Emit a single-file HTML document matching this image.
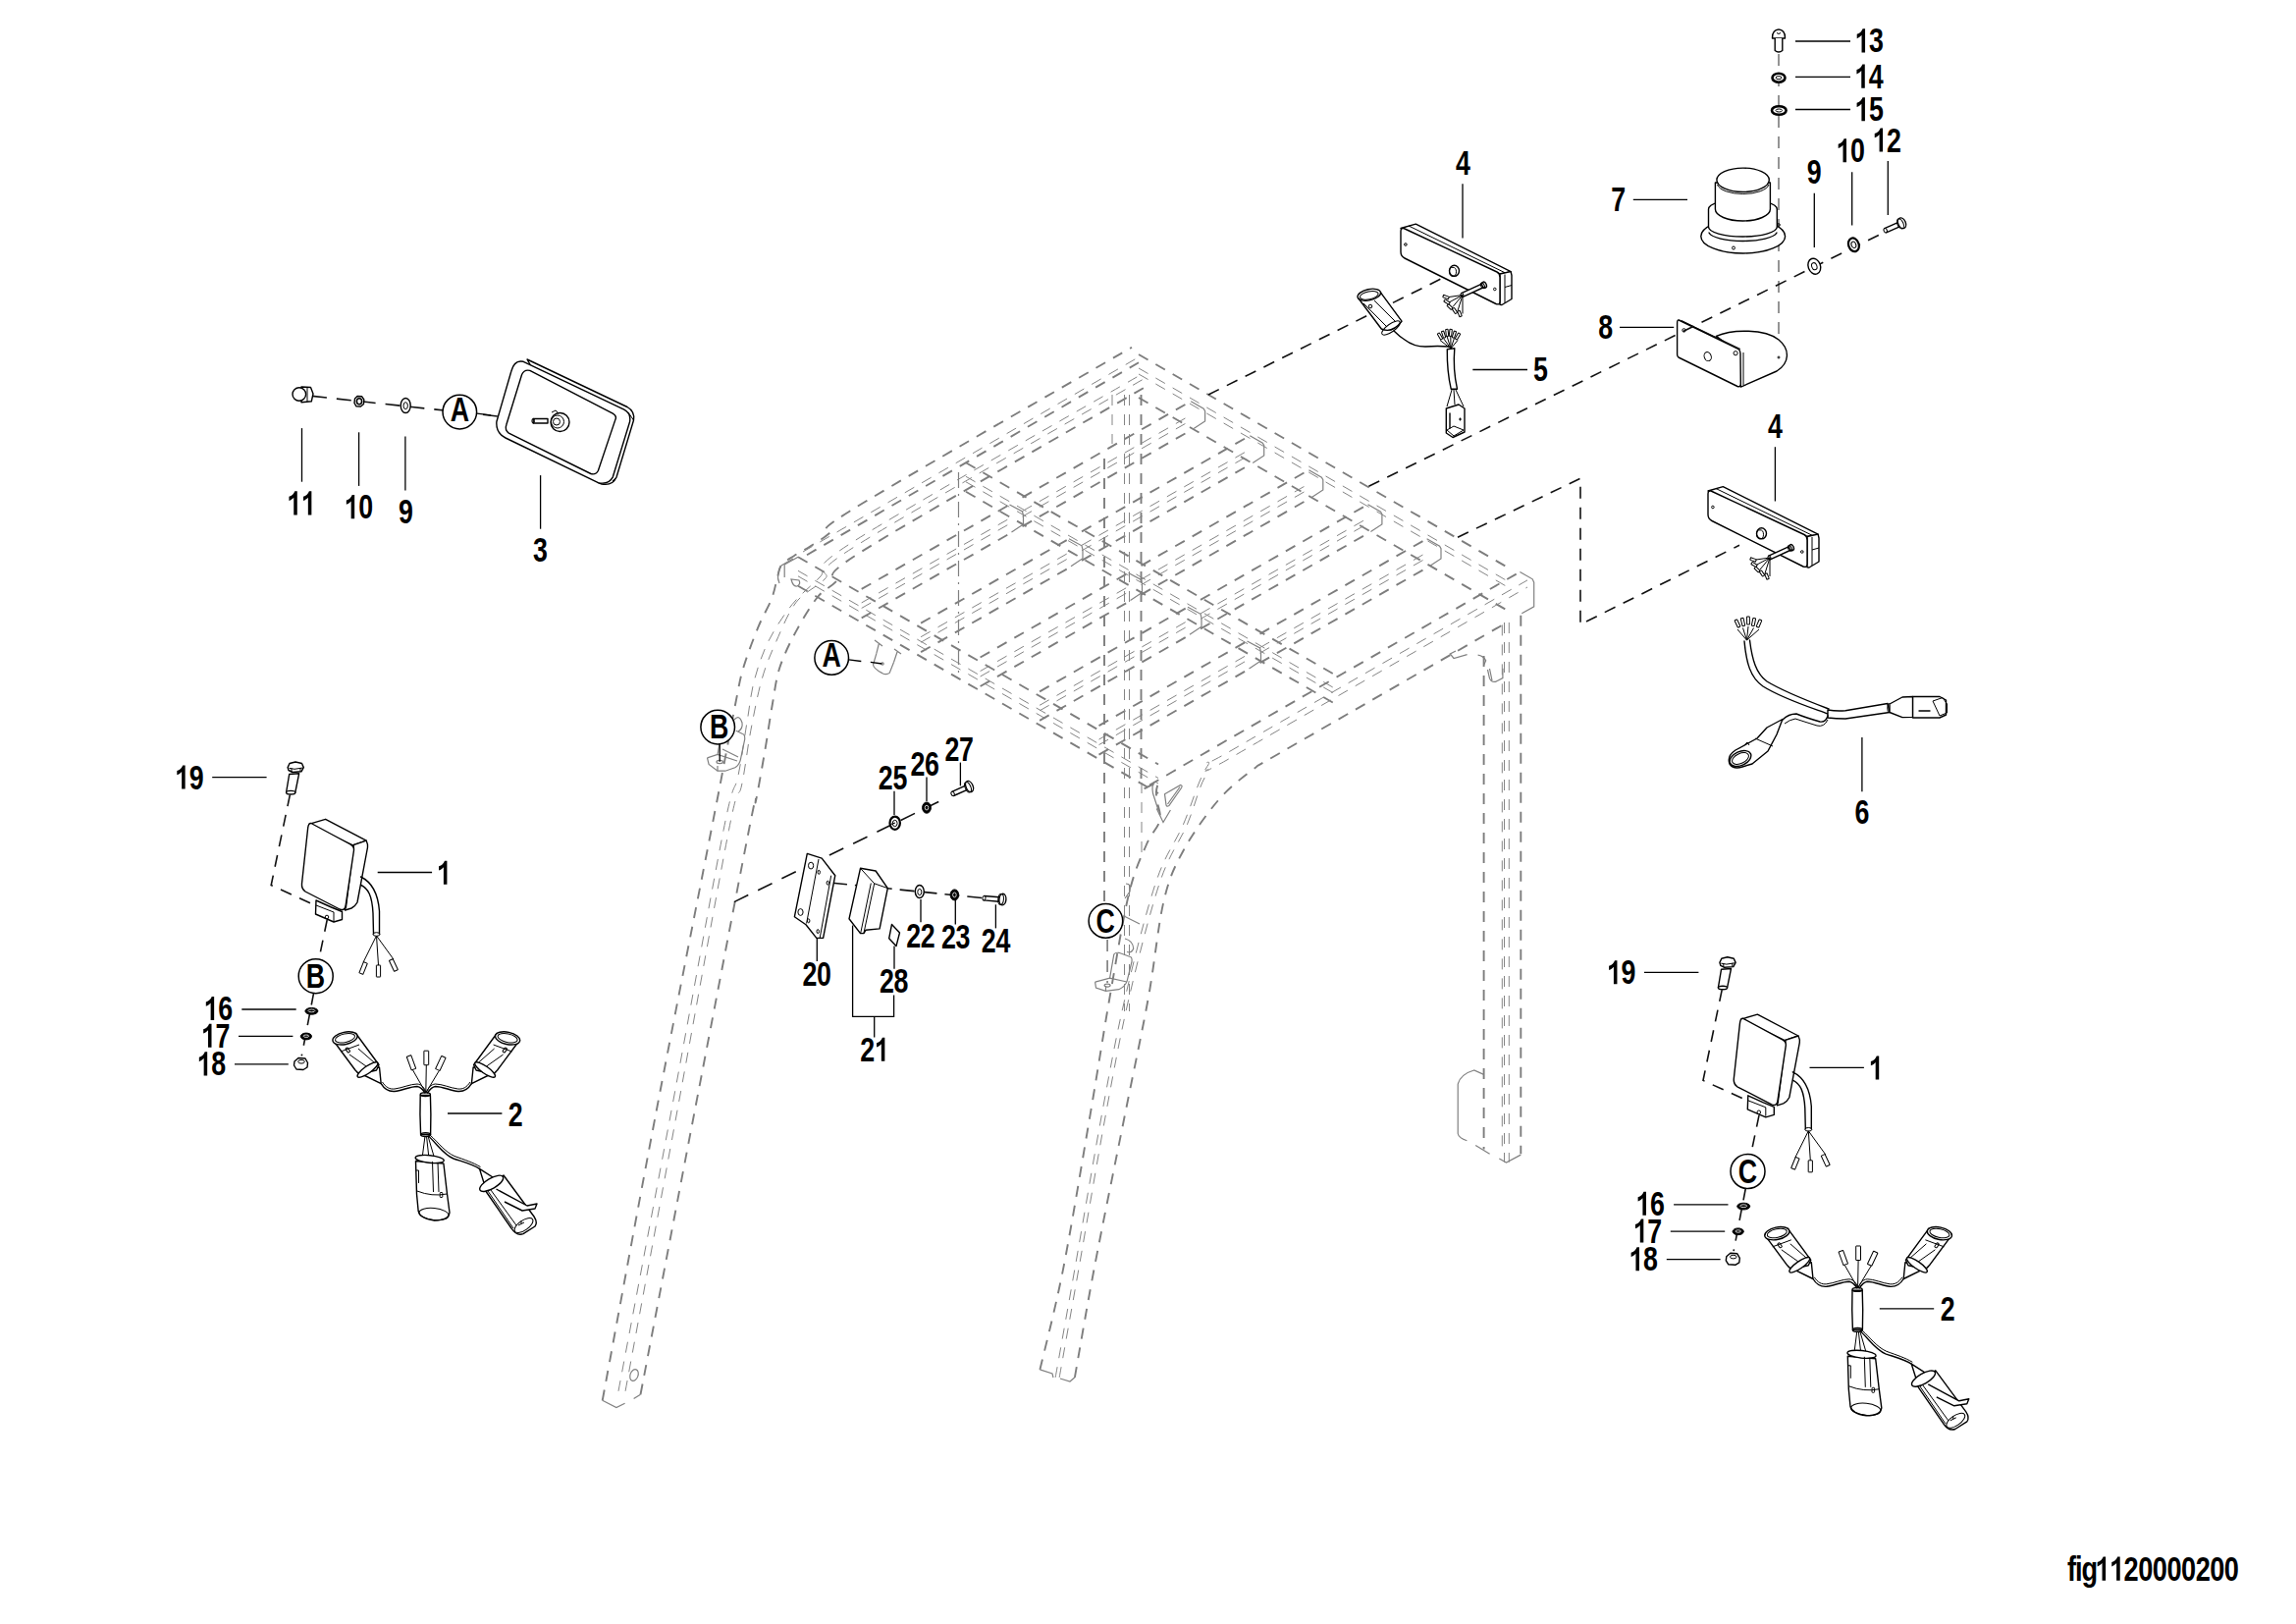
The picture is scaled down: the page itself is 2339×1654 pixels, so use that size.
<!DOCTYPE html>
<html><head><meta charset="utf-8"><title>fig1120000200</title>
<style>
html,body{margin:0;padding:0;background:#fff;}
svg{display:block;}
text{font-family:"Liberation Sans",sans-serif;font-weight:bold;font-size:35.0px;fill:#000;}
.k{stroke:#000;stroke-width:1.3;fill:none;}
.c{stroke:#000;stroke-width:1.5;fill:#fff;}
.p{stroke:#000;stroke-width:1.4;fill:#fff;stroke-linejoin:round;}
.pn{stroke:#000;stroke-width:1.4;fill:none;stroke-linejoin:round;stroke-linecap:round;}
.pf{stroke:#000;stroke-width:1;fill:#000;}
.pw{stroke:#fff;stroke-width:0.8;fill:none;}
.pt{stroke:#000;stroke-width:1;fill:none;}
.d{stroke:#111;stroke-width:1.6;fill:none;stroke-dasharray:12 9;}
.dg{stroke:#7a7a7a;stroke-width:1.6;fill:none;stroke-dasharray:12 9;}
.f1{stroke:#7d7d7d;stroke-width:1.9;fill:none;stroke-dasharray:11 9;}
.f2{stroke:#858585;stroke-width:1.0;fill:none;stroke-dasharray:11 9;}
.fs{stroke:#808080;stroke-width:1.2;fill:none;}
</style></head>
<body>
<svg xmlns="http://www.w3.org/2000/svg" width="2339" height="1654" viewBox="0 0 2339 1654">
<rect width="2339" height="1654" fill="#fff"/>
<g id="frame"><line class="f1" x1="813.0" y1="567.3" x2="1180.0" y2="778.5"/><line class="f2" x1="813.0" y1="581.3" x2="1180.0" y2="792.5"/><line class="f2" x1="813.0" y1="586.8" x2="1180.0" y2="798.0"/><line class="f1" x1="813.0" y1="596.8" x2="1180.0" y2="808.0"/>
<line class="f1" x1="1160.0" y1="361.0" x2="1540.0" y2="580.3"/><line class="f2" x1="1160.0" y1="375.0" x2="1540.0" y2="594.3"/><line class="f2" x1="1160.0" y1="381.0" x2="1540.0" y2="600.3"/><line class="f1" x1="1160.0" y1="405.0" x2="1540.0" y2="624.3"/>
<line class="f1" x1="984.0" y1="471.3" x2="1362.0" y2="688.4"/><line class="f2" x1="984.0" y1="485.3" x2="1362.0" y2="702.4"/><line class="f2" x1="984.0" y1="490.8" x2="1362.0" y2="707.9"/><line class="f1" x1="984.0" y1="500.8" x2="1362.0" y2="717.9"/>
<line class="f1" x1="877.7" y1="599.9" x2="1028.5" y2="514.0"/><line class="f2" x1="877.7" y1="613.9" x2="1028.5" y2="528.0"/><line class="f2" x1="877.7" y1="619.4" x2="1028.5" y2="533.5"/><line class="f1" x1="877.7" y1="629.4" x2="1028.5" y2="543.5"/>
<polyline class="fs" points="1028.5,514.0 1041.5,521.0 1042.5,525.0 1042.5,534.0 1030.5,542.0"/>
<line class="f1" x1="1041.5" y1="506.6" x2="1213.2" y2="408.7"/><line class="f2" x1="1041.5" y1="520.6" x2="1213.2" y2="422.7"/><line class="f2" x1="1041.5" y1="526.1" x2="1213.2" y2="428.2"/><line class="f1" x1="1041.5" y1="536.1" x2="1213.2" y2="438.2"/>
<polyline class="fs" points="1213.2,408.7 1226.2,416.2 1227.6,418.7 1227.6,428.9 1216.1,436.5"/>
<line class="f1" x1="938.1" y1="634.7" x2="1089.0" y2="548.8"/><line class="f2" x1="938.1" y1="648.7" x2="1089.0" y2="562.8"/><line class="f2" x1="938.1" y1="654.2" x2="1089.0" y2="568.3"/><line class="f1" x1="938.1" y1="664.2" x2="1089.0" y2="578.3"/>
<polyline class="fs" points="1089.0,548.8 1102.0,555.8 1103.0,559.8 1103.0,568.8 1091.0,576.8"/>
<line class="f1" x1="1102.0" y1="541.3" x2="1273.3" y2="443.7"/><line class="f2" x1="1102.0" y1="555.3" x2="1273.3" y2="457.7"/><line class="f2" x1="1102.0" y1="560.8" x2="1273.3" y2="463.2"/><line class="f1" x1="1102.0" y1="570.8" x2="1273.3" y2="473.2"/>
<polyline class="fs" points="1273.3,443.7 1286.3,451.2 1287.7,453.7 1287.7,463.9 1276.2,471.5"/>
<line class="f1" x1="998.6" y1="669.5" x2="1149.5" y2="583.5"/><line class="f2" x1="998.6" y1="683.5" x2="1149.5" y2="597.5"/><line class="f2" x1="998.6" y1="689.0" x2="1149.5" y2="603.0"/><line class="f1" x1="998.6" y1="699.0" x2="1149.5" y2="613.0"/>
<polyline class="fs" points="1149.5,583.5 1162.5,590.5 1163.5,594.5 1163.5,603.5 1151.5,611.5"/>
<line class="f1" x1="1162.5" y1="576.1" x2="1333.4" y2="478.7"/><line class="f2" x1="1162.5" y1="590.1" x2="1333.4" y2="492.7"/><line class="f2" x1="1162.5" y1="595.6" x2="1333.4" y2="498.2"/><line class="f1" x1="1162.5" y1="605.6" x2="1333.4" y2="508.2"/>
<polyline class="fs" points="1333.4,478.7 1346.4,486.2 1347.8,488.7 1347.8,498.9 1336.3,506.5"/>
<line class="f1" x1="1059.1" y1="704.3" x2="1210.0" y2="618.3"/><line class="f2" x1="1059.1" y1="718.3" x2="1210.0" y2="632.3"/><line class="f2" x1="1059.1" y1="723.8" x2="1210.0" y2="637.8"/><line class="f1" x1="1059.1" y1="733.8" x2="1210.0" y2="647.8"/>
<polyline class="fs" points="1210.0,618.3 1223.0,625.3 1224.0,629.3 1224.0,638.3 1212.0,646.3"/>
<line class="f1" x1="1223.0" y1="610.9" x2="1393.5" y2="513.7"/><line class="f2" x1="1223.0" y1="624.9" x2="1393.5" y2="527.7"/><line class="f2" x1="1223.0" y1="630.4" x2="1393.5" y2="533.2"/><line class="f1" x1="1223.0" y1="640.4" x2="1393.5" y2="543.2"/>
<polyline class="fs" points="1393.5,513.7 1406.5,521.2 1407.9,523.7 1407.9,533.9 1396.4,541.5"/>
<line class="f1" x1="1119.5" y1="739.1" x2="1270.5" y2="653.0"/><line class="f2" x1="1119.5" y1="753.1" x2="1270.5" y2="667.0"/><line class="f2" x1="1119.5" y1="758.6" x2="1270.5" y2="672.5"/><line class="f1" x1="1119.5" y1="768.6" x2="1270.5" y2="682.5"/>
<polyline class="fs" points="1270.5,653.0 1283.5,660.0 1284.5,664.0 1284.5,673.0 1272.5,681.0"/>
<line class="f1" x1="1283.5" y1="645.6" x2="1453.6" y2="548.7"/><line class="f2" x1="1283.5" y1="659.6" x2="1453.6" y2="562.7"/><line class="f2" x1="1283.5" y1="665.1" x2="1453.6" y2="568.2"/><line class="f1" x1="1283.5" y1="675.1" x2="1453.6" y2="578.2"/>
<polyline class="fs" points="1453.6,548.7 1466.6,556.2 1468.0,558.7 1468.0,568.9 1456.5,576.5"/>
<path class="f1" d="M613.7,1426.3 C622.8,1377.8 649.5,1231.8 668.0,1135.0 C686.5,1038.2 713.4,902.8 724.6,845.4 C735.8,788.0 731.0,812.9 735.2,790.9 C739.4,768.9 746.2,731.8 749.9,713.3 C753.6,694.8 753.6,692.3 757.3,680.0 C761.0,667.7 767.3,651.1 772.1,639.4 C776.9,627.7 782.7,618.6 786.0,610.0 C789.3,601.4 790.3,593.8 792.0,588.0 C793.7,582.2 793.5,578.6 796.3,575.0 C799.1,571.4 803.8,569.4 808.8,566.2 C813.8,563.0 820.0,559.9 826.0,556.0 C832.0,552.1 837.7,549.4 845.0,543.0 C852.3,536.6 818.7,549.4 870.0,517.9 C921.3,486.3 1105.8,381.1 1153.0,353.7"/>
<line class="f2" x1="818.0" y1="562.0" x2="1160.0" y2="363.7"/>
<line class="f1" x1="822.0" y1="565.2" x2="1160.0" y2="369.2"/>
<path class="f2" d="M630.0,1416.8 C639.0,1369.2 666.1,1226.2 684.0,1131.0 C701.9,1035.8 725.8,902.1 737.1,845.4 C748.4,788.7 747.8,809.2 751.8,790.9 C755.8,772.6 758.2,751.8 761.0,735.5 C763.8,719.2 764.7,706.9 768.4,693.0 C772.1,679.1 776.7,665.3 783.2,652.4 C789.7,639.5 798.6,626.1 807.2,615.4 C815.8,604.7 824.2,598.9 835.0,588.0 C845.8,577.1 817.0,584.6 872.0,549.9 C927.0,515.2 1116.2,408.3 1165.0,380.0"/>
<path class="f2" d="M637.1,1416.8 C645.9,1369.2 672.4,1226.2 690.0,1131.0 C707.6,1035.8 731.6,900.6 742.5,845.4 C753.4,790.2 751.8,816.8 755.5,800.0 C759.2,783.2 761.3,762.5 764.7,744.7 C768.1,726.9 771.6,708.0 775.8,693.0 C780.0,678.0 784.1,668.2 790.0,655.0 C795.9,641.8 802.6,624.4 810.9,613.6 C819.2,602.8 829.8,599.6 840.0,590.0 C850.2,580.4 817.8,589.9 872.0,555.9 C926.2,521.9 1116.2,414.3 1165.0,386.0"/>
<path class="f1" d="M652.5,1420.3 C661.8,1371.9 689.4,1226.7 708.0,1130.0 C726.6,1033.3 753.6,892.5 764.0,840.0 C774.4,787.5 767.6,827.7 770.2,814.9 C772.8,802.1 776.7,779.5 779.5,763.2 C782.3,746.9 784.4,730.9 786.9,717.0 C789.4,703.1 790.3,692.3 794.3,680.0 C798.3,667.7 804.4,655.1 810.9,643.1 C817.4,631.1 826.1,616.5 833.0,608.0 C839.9,599.5 844.5,599.7 852.0,592.0 C859.5,584.3 825.3,594.7 878.0,561.6 C930.7,528.5 1119.7,421.5 1168.0,393.4"/>
<polyline class="fs" points="613.7,1426.3 627.9,1433.6 636.6,1429.3"/>
<polyline class="fs" points="645.6,1424.6 652.5,1420.3"/>
<ellipse class="fs" cx="646" cy="1400.5" rx="4" ry="6" transform="rotate(20 646 1400.5)"/>
<path class="f1" d="M1059.4,1394.9 C1063.4,1377.8 1074.5,1335.8 1083.1,1292.4 C1091.6,1249.1 1102.8,1180.8 1110.7,1134.8 C1118.6,1088.8 1123.8,1054.0 1130.4,1016.5 C1137.0,979.0 1143.8,936.2 1150.1,910.1 C1156.4,884.0 1162.8,872.5 1168.0,860.0 C1173.2,847.5 1179.9,843.2 1181.6,835.2 C1183.3,827.2 1178.2,818.4 1178.0,812.0 C1177.8,805.6 1177.8,801.4 1180.6,797.0 C1183.4,792.6 1134.3,821.1 1195.0,785.7 C1255.7,750.2 1486.7,618.0 1545.0,584.4"/>
<path class="f2" d="M1075.2,1402.8 C1078.5,1384.4 1087.0,1337.1 1094.9,1292.4 C1102.8,1247.7 1114.0,1180.8 1122.5,1134.8 C1131.0,1088.8 1136.9,1055.9 1146.1,1016.5 C1155.3,977.1 1167.8,927.6 1177.7,898.2 C1187.6,868.8 1196.6,859.6 1205.3,840.0 C1214.0,820.4 1220.9,793.5 1230.0,780.3 C1239.1,767.2 1205.7,792.7 1260.0,761.1 C1314.3,729.5 1506.7,619.3 1556.0,590.9"/>
<path class="f2" d="M1079.2,1402.8 C1082.5,1384.4 1091.0,1337.1 1098.9,1292.4 C1106.8,1247.7 1118.0,1180.8 1126.5,1134.8 C1135.0,1088.8 1140.9,1055.9 1150.1,1016.5 C1159.3,977.1 1171.8,927.6 1181.7,898.2 C1191.6,868.8 1201.2,858.5 1209.3,840.0 C1217.3,821.5 1221.5,799.4 1230.0,787.4 C1238.5,775.5 1205.7,799.8 1260.0,768.2 C1314.3,736.6 1506.7,626.4 1556.0,598.0"/>
<path class="f1" d="M1094.9,1402.8 C1098.2,1384.4 1106.1,1337.1 1114.6,1292.4 C1123.1,1247.7 1136.9,1180.8 1146.1,1134.8 C1155.3,1088.8 1163.2,1052.6 1169.8,1016.5 C1176.4,980.4 1179.6,943.0 1185.5,918.0 C1191.4,893.0 1196.1,883.8 1205.3,866.7 C1214.5,849.6 1228.9,829.3 1240.7,815.5 C1252.5,801.7 1264.7,792.6 1276.2,783.9 C1287.8,775.2 1267.7,787.9 1310.0,763.4 C1352.3,739.0 1493.3,658.0 1530.0,636.9"/>
<polyline class="fs" points="1059.4,1394.9 1072,1399 1073,1403"/>
<polyline class="fs" points="1080,1404 1090,1407 1094.9,1402.8"/>
<polyline class="fs" points="1548.4,582.4 1561.2,589.8 1562.7,593.2 1562.7,617.8 1550.3,624.7"/>
<line class="f1" x1="1511.6" y1="668.0" x2="1511.6" y2="1170.5"/>
<line class="f2" x1="1532.5" y1="634.0" x2="1532.5" y2="1183.7"/>
<line class="f2" x1="1537.3" y1="634.0" x2="1537.3" y2="1183.7"/>
<line class="f1" x1="1549.3" y1="626.8" x2="1549.3" y2="1175.3"/>
<polyline class="fs" points="1527.3,1180.1 1534.5,1184.1 1549.3,1176.1"/>
<polyline class="fs" points="1503.2,1166.5 1517.6,1175.3"/>
<path class="fs" d="M1485.2,1104 L1485.2,1154.5 Q1486,1159 1494.4,1161.7 M1485.2,1104 Q1488,1094 1501.6,1090 L1511.6,1094.4"/>
<path class="fs" d="M1483,663 L1477.3,665.9 L1481,670.5 L1494.6,666.6"/>
<path class="fs" d="M1505.6,667.2 Q1511,668 1513.7,672.7 L1511.8,677"/>
<path class="fs" d="M1515.5,682 L1517.4,690.6 Q1519,695 1523.5,694.3 L1530.9,690.6 L1530.9,680.7 M1517.5,681 L1520,693"/>
<line class="f2" x1="1530.3" y1="636.4" x2="1530.3" y2="1170.0"/>
<line class="f1" x1="1125.0" y1="467.0" x2="1125.0" y2="920.0"/>
<line class="f2" x1="1145.5" y1="402.0" x2="1145.5" y2="1030.0"/>
<line class="f2" x1="1150.5" y1="402.0" x2="1150.5" y2="1030.0"/>
<line class="f1" x1="1162.5" y1="402.0" x2="1162.5" y2="797.0"/>
<line class="f2" x1="1163.0" y1="797.0" x2="1163.0" y2="876.0"/>
<line class="f2" x1="1133.0" y1="402.0" x2="1133.0" y2="452.0"/>
<line class="fs" style="stroke-dasharray:16 6 2 6" x1="976.5" y1="481" x2="976.5" y2="688"/>
<path class="fs" d="M720.5,771.9 L722.1,778.5 L731,785.2 L738.8,785.2 L748.8,781.8 Q753,779 754.3,774.1 L758.7,753 Q759,748 756.5,747.5 L749.9,744.2"/>
<path class="fs" d="M720.5,771.9 L731,768.5 L751,775 M731,768.5 L734,752 M731,785.2 L731,780 M736,763 L752,771"/>
<ellipse class="fs" cx="733.2" cy="776" rx="3.2" ry="1.6"/>
<path class="fs" d="M748,733 Q753,727 756,736 Q757,742 752,745"/>
<path class="fs" d="M1115.6,1000.2 L1116.5,1006 L1126.5,1009.4 L1139.8,1007.7 Q1146,1005 1148.1,999.4 L1153,979.5 Q1153.5,975 1151.4,974.5 L1139.8,970.3 Q1136,970 1134.8,972 L1130.6,996.1"/>
<path class="fs" d="M1115.6,1000.2 L1130.6,996.1 L1148,1000 M1126.5,1009.4 L1126.5,1004"/>
<ellipse class="fs" cx="1128.1" cy="1003.6" rx="3" ry="1.5"/>
<path class="fs" d="M1146,956 Q1154,958 1154.7,966 Q1153,971 1148,969.5"/>
<path class="fs" d="M1147,900 Q1153,900 1151,908 L1146,915"/>
<line class="fs" x1="1145" y1="933" x2="1161" y2="941"/>
<path class="fs" d="M892.9,665.4 L889.5,677 Q890,681 898.4,685.4 Q903,688 906.2,685.4 L910.6,674.3"/>
<path class="fs" d="M892.9,665.4 L895.5,655 M910.6,674.3 L914,664 M891,652 L899,658 M911,661 L918,666"/>
<circle class="fs" cx="899" cy="676" r="1.2"/>
<path class="fs" d="M1186.5,808.7 L1202.7,799.5 Q1205,800 1203.5,802.5 L1190.9,820.5 Q1188.5,822 1188,819.8 Z M1189.5,819 L1202,801.5"/>
<path class="fs" d="M1178.3,823.5 L1185,837.5 L1192.4,825"/>
<path class="fs" d="M1176,796 Q1173,800 1174.5,808 L1180,825"/>
<path class="fs" d="M799.2,575 L799.2,587.9 M799.2,575 L813.1,567.3"/>
<path class="fs" d="M806,590 Q808,598 812,597 Q816,595 814,591 Z"/>
<path class="fs" d="M794,594 Q790,585 796,576 L808,569"/>
<line class="dg" x1="1128.1" y1="957" x2="1128.1" y2="1001"/></g>
<g id="parts"><line class="dg" x1="1812" y1="55" x2="1812" y2="366"/>
<path class="p" d="M1805.5,39 C1805,33 1808.5,30 1812,30 C1815.5,30 1819,33 1818.5,39 Z"/>
<path class="p" d="M1808.2,39 L1808.2,51.5 Q1812,54.5 1815.8,51.5 L1815.8,39"/>
<path class="pt" d="M1810,33.5 Q1812,35.5 1814,33.5"/>
<ellipse class="p" cx="1812.0" cy="79.2" rx="6.5" ry="4.5" style="stroke-width:2.6"/><ellipse class="pt" cx="1812.0" cy="79.2" rx="2.9250000000000003" ry="1.575"/>
<ellipse class="p" cx="1812.3" cy="112.5" rx="7.3" ry="4.3" style="stroke-width:2.6"/><ellipse class="pt" cx="1812.3" cy="112.5" rx="3.285" ry="1.505"/>
<ellipse class="p" cx="1775.7" cy="240.7" rx="42.9" ry="17.3"/>
<path class="p" d="M1740.5,213 L1740.5,231 A34.9,10 0 0 0 1810.3,231 L1810.3,213 A34.9,10 0 0 0 1740.5,213 Z"/>
<path class="pn" d="M1741,237 A34.9,10 0 0 0 1810,237"/>
<path class="p" d="M1747.4,186 L1747.4,213 A28,12 0 0 0 1803.4,213 L1803.4,186 Z"/>
<ellipse class="p" cx="1775.6" cy="183.3" rx="26.7" ry="12.2"/>
<path class="pt" d="M1749.5,188 A26.5,11 0 0 0 1802,188"/>
<circle class="pt" cx="1812.0" cy="229.0" r="1.3"/>
<circle class="pt" cx="1766.0" cy="252.5" r="1.5"/>
<path class="p" d="M1748.3,342.4 C1765,335 1798,335 1812,346 C1824,356 1823,370 1810,378 L1773.3,394.1 L1771,359 Z"/>
<path class="p" d="M1710.3,326 L1770.7,355.3 Q1773,357 1773,360 L1773.3,391 Q1773,394.5 1770,393.5 L1710,364 Q1708.6,363 1708.6,361 L1708.6,329 Q1708.6,325.5 1710.3,326 Z"/>
<line class="pt" x1="1713.0" y1="326.5" x2="1773.0" y2="355.5"/>
<line class="pt" x1="1776.0" y1="359.0" x2="1776.0" y2="392.0"/>
<circle class="pt" cx="1715.5" cy="336.4" r="1.7"/>
<ellipse class="pt" cx="1739.7" cy="363.1" rx="3.5" ry="4.6" transform="rotate(-20 1739.7 363.1)"/>
<circle class="pt" cx="1768.1" cy="359.7" r="2.1"/>
<circle class="pt" cx="1812.0" cy="364.0" r="1.0"/>
<line class="d" x1="1394.4" y1="495.3" x2="1915.6" y2="238.6"/>
<ellipse class="p" cx="1848.3" cy="271.2" rx="6.2" ry="8.2" transform="rotate(-20 1848.3 271.2)"/><ellipse class="pt" cx="1848.3" cy="271.2" rx="2.6" ry="3.6" transform="rotate(-20 1848.3 271.2)"/>
<ellipse class="p" cx="1888.4" cy="249.3" rx="5.2" ry="7" transform="rotate(-20 1888.4 249.3)" style="stroke-width:2.2"/><ellipse class="pt" cx="1888.4" cy="249.3" rx="2.3" ry="3.3" transform="rotate(-20 1888.4 249.3)"/>
<path class="p" d="M1921.6,236.8 L1936.9,230.1 L1935.1,225.9 L1919.8,232.6 Z"/><ellipse class="p" cx="1920.7" cy="234.7" rx="1.575" ry="2.25" transform="rotate(-23.649019752346433 1920.7 234.7)" style="stroke-width:1"/><ellipse class="p" cx="1937.5" cy="227.2" rx="3.8" ry="5.6" transform="rotate(-23.649019752346433 1937.5 227.2)"/><ellipse class="pt" cx="1935.9" cy="227.9" rx="3.04" ry="5.319999999999999" transform="rotate(-23.649019752346433 1935.9 227.9)"/>
<line class="d" x1="1231" y1="402" x2="1474" y2="281"/>
<path class="p" d="M1427.0,232.5 L1442.3,228.1 L1539.1,276.6 L1528.0,279.0 Z"/><line class="pt" x1="1435.0" y1="230.0" x2="1533.0" y2="277.7"/><path class="p" d="M1528.0,279.0 L1539.1,276.6 L1540.0,280.5 L1540.0,304.5 L1530.0,310.5 L1528.0,310.2 Z"/><line class="pt" x1="1533.0" y1="279.5" x2="1533.0" y2="308.5"/><line class="pt" x1="1533.0" y1="292.5" x2="1540.0" y2="290.5"/><path class="p" d="M1430,232.5 L1525,277.0 Q1528,278.5 1528,282.5 L1528,307.0 Q1528,311.0 1524,309.5 L1431,263.0 Q1427,261.0 1427,256.5 L1427,235.5 Q1427,232.0 1430,232.5 Z"/><circle class="pt" cx="1431.9" cy="249.0" r="1.3"/><circle class="pt" cx="1522.8" cy="294.5" r="1.3"/><ellipse class="p" cx="1481.5" cy="275.8" rx="5" ry="5.5"/><ellipse class="pt" cx="1480.0" cy="276.8" rx="3.5" ry="4.5"/><path class="p" d="M1490.3,302.3 L1512.8,292.0 L1511.2,288.4 L1488.7,298.7 Z"/><ellipse class="p" cx="1489.5" cy="300.5" rx="1.4" ry="2.0" transform="rotate(-24.597254159122887 1489.5 300.5)" style="stroke-width:1"/><ellipse class="p" cx="1512.0" cy="290.2" rx="2.2" ry="3.2" transform="rotate(-24.597254159122887 1512.0 290.2)"/><ellipse class="pt" cx="1510.4" cy="290.9" rx="1.7600000000000002" ry="3.04" transform="rotate(-24.597254159122887 1510.4 290.9)"/><line class="pt" x1="1490.0" y1="300.5" x2="1476.0" y2="302.5"/><rect class="pt" x="1470.0" y="301.2" width="6" height="2.6" rx="0.5" transform="rotate(20 1473.0 302.5)"/><line class="pt" x1="1490.0" y1="300.5" x2="1477.0" y2="307.5"/><rect class="pt" x="1471.0" y="306.2" width="6" height="2.6" rx="0.5" transform="rotate(32 1474.0 307.5)"/><line class="pt" x1="1490.0" y1="300.5" x2="1480.0" y2="312.5"/><rect class="pt" x="1474.0" y="311.2" width="6" height="2.6" rx="0.5" transform="rotate(44 1477.0 312.5)"/><line class="pt" x1="1490.0" y1="300.5" x2="1485.0" y2="316.5"/><rect class="pt" x="1479.0" y="315.2" width="6" height="2.6" rx="0.5" transform="rotate(56 1482.0 316.5)"/><line class="pt" x1="1490.0" y1="300.5" x2="1490.0" y2="319.5"/><rect class="pt" x="1484.0" y="318.2" width="6" height="2.6" rx="0.5" transform="rotate(68 1487.0 319.5)"/>
<polyline class="d" points="1485,547.2 1610,487.3 1610,636 1772,555.3"/>
<path class="p" d="M1740.0,500.0 L1755.3,495.6 L1852.1,544.1 L1841.0,546.5 Z"/><line class="pt" x1="1748.0" y1="497.5" x2="1846.0" y2="545.2"/><path class="p" d="M1841.0,546.5 L1852.1,544.1 L1853.0,548.0 L1853.0,572.0 L1843.0,578.0 L1841.0,577.7 Z"/><line class="pt" x1="1846.0" y1="547.0" x2="1846.0" y2="576.0"/><line class="pt" x1="1846.0" y1="560.0" x2="1853.0" y2="558.0"/><path class="p" d="M1743,500 L1838,544.5 Q1841,546 1841,550 L1841,574.5 Q1841,578.5 1837,577 L1744,530.5 Q1740,528.5 1740,524 L1740,503 Q1740,499.5 1743,500 Z"/><circle class="pt" cx="1744.9" cy="516.5" r="1.3"/><circle class="pt" cx="1835.8" cy="562.0" r="1.3"/><ellipse class="p" cx="1794.5" cy="543.3" rx="5" ry="5.5"/><ellipse class="pt" cx="1793.0" cy="544.3" rx="3.5" ry="4.5"/><path class="p" d="M1803.3,569.8 L1825.8,559.5 L1824.2,555.9 L1801.7,566.2 Z"/><ellipse class="p" cx="1802.5" cy="568.0" rx="1.4" ry="2.0" transform="rotate(-24.597254159122766 1802.5 568.0)" style="stroke-width:1"/><ellipse class="p" cx="1825.0" cy="557.7" rx="2.2" ry="3.2" transform="rotate(-24.597254159122766 1825.0 557.7)"/><ellipse class="pt" cx="1823.4" cy="558.4" rx="1.7600000000000002" ry="3.04" transform="rotate(-24.597254159122766 1823.4 558.4)"/><line class="pt" x1="1803.0" y1="568.0" x2="1789.0" y2="570.0"/><rect class="pt" x="1783.0" y="568.7" width="6" height="2.6" rx="0.5" transform="rotate(20 1786.0 570.0)"/><line class="pt" x1="1803.0" y1="568.0" x2="1790.0" y2="575.0"/><rect class="pt" x="1784.0" y="573.7" width="6" height="2.6" rx="0.5" transform="rotate(32 1787.0 575.0)"/><line class="pt" x1="1803.0" y1="568.0" x2="1793.0" y2="580.0"/><rect class="pt" x="1787.0" y="578.7" width="6" height="2.6" rx="0.5" transform="rotate(44 1790.0 580.0)"/><line class="pt" x1="1803.0" y1="568.0" x2="1798.0" y2="584.0"/><rect class="pt" x="1792.0" y="582.7" width="6" height="2.6" rx="0.5" transform="rotate(56 1795.0 584.0)"/><line class="pt" x1="1803.0" y1="568.0" x2="1803.0" y2="587.0"/><rect class="pt" x="1797.0" y="585.7" width="6" height="2.6" rx="0.5" transform="rotate(68 1800.0 587.0)"/>
<path class="p" d="M1383.6,303.5 L1407.3,335 Q1418,340 1428,327.2 L1406.3,297.6 Z"/>
<ellipse class="p" cx="1394.8" cy="300.2" rx="12" ry="5.6" transform="rotate(-12 1394.8 300.2)"/>
<ellipse class="pt" cx="1394.8" cy="300.8" rx="9.5" ry="4" transform="rotate(-12 1394.8 300.8)"/>
<line class="pt" x1="1389.0" y1="309.0" x2="1413.0" y2="333.0"/><line class="pt" x1="1400.0" y1="306.0" x2="1422.0" y2="328.0"/>
<ellipse class="pt" cx="1417.0" cy="334.0" rx="11" ry="4" transform="rotate(-35 1417.0 334.0)"/>
<circle class="pt" cx="1396.0" cy="312.0" r="1.8"/>
<path class="pn" d="M1420,337 Q1426,343 1431,346 Q1440,353 1452,353 Q1465,352 1476,353"/>
<path class="p" d="M1474.3,355.8 Q1474,378 1478.2,396.2 L1484.5,396.2 Q1480,376 1481.8,354.8 Z"/>
<line class="pt" x1="1478.0" y1="355.0" x2="1467.0" y2="346.5"/>
<rect class="pt" x="1465.8" y="339.0" width="2.4" height="7" rx="0.5" transform="rotate(-30 1467.0 342.5)"/>
<line class="pt" x1="1478.0" y1="355.0" x2="1470.6" y2="344.7"/>
<rect class="pt" x="1469.4" y="337.2" width="2.4" height="7" rx="0.5" transform="rotate(-18 1470.6 340.7)"/>
<line class="pt" x1="1478.0" y1="355.0" x2="1474.2" y2="342.9"/>
<rect class="pt" x="1473.0" y="335.4" width="2.4" height="7" rx="0.5" transform="rotate(-6 1474.2 338.9)"/>
<line class="pt" x1="1478.0" y1="355.0" x2="1477.8" y2="342.9"/>
<rect class="pt" x="1476.6" y="335.4" width="2.4" height="7" rx="0.5" transform="rotate(6 1477.8 338.9)"/>
<line class="pt" x1="1478.0" y1="355.0" x2="1481.4" y2="344.7"/>
<rect class="pt" x="1480.2" y="337.2" width="2.4" height="7" rx="0.5" transform="rotate(18 1481.4 340.7)"/>
<line class="pt" x1="1478.0" y1="355.0" x2="1485.0" y2="346.5"/>
<rect class="pt" x="1483.8" y="339.0" width="2.4" height="7" rx="0.5" transform="rotate(30 1485.0 342.5)"/>
<path class="pt" d="M1479,397 L1474,414 M1481,397 L1482,412 M1483,397 L1491,414"/>
<path class="p" d="M1473.3,416 L1486,412 L1492,416 L1492,440 L1480,445.5 L1473.3,441 Z"/>
<path class="pt" d="M1474,438 L1481,434 L1491,438 L1481,444 Z"/>
<line class="pn" x1="1477.0" y1="421.0" x2="1477.0" y2="436.0"/>
<path class="pt" d="M1486,427 l3,0 m-1.5,-1.5 l0,3"/>
<line class="pt" x1="1779.5" y1="652.0" x2="1770.0" y2="641.0"/>
<rect class="pt" x="1768.6" y="631.0" width="2.8" height="8" rx="0.5" transform="rotate(-25 1770.0 635.0)"/>
<line class="pt" x1="1779.5" y1="652.0" x2="1775.5" y2="639.5"/>
<rect class="pt" x="1774.1" y="629.5" width="2.8" height="8" rx="0.5" transform="rotate(-13 1775.5 633.5)"/>
<line class="pt" x1="1779.5" y1="652.0" x2="1781.0" y2="638.0"/>
<rect class="pt" x="1779.6" y="628.0" width="2.8" height="8" rx="0.5" transform="rotate(-1 1781.0 632.0)"/>
<line class="pt" x1="1779.5" y1="652.0" x2="1786.5" y2="639.5"/>
<rect class="pt" x="1785.1" y="629.5" width="2.8" height="8" rx="0.5" transform="rotate(11 1786.5 633.5)"/>
<line class="pt" x1="1779.5" y1="652.0" x2="1792.0" y2="641.0"/>
<rect class="pt" x="1790.6" y="631.0" width="2.8" height="8" rx="0.5" transform="rotate(23 1792.0 635.0)"/>
<path class="pn" d="M1777,653 C1779,675 1783,690 1796,699 C1815,711 1840,719 1862,727"/>
<path class="pn" d="M1782.5,652 C1785,672 1789,686 1800,694 C1818,705 1842,714 1863,722"/>
<path class="p" d="M1862,723 Q1871,724.5 1880,723.7 L1923,716.5 L1925,725.5 L1880,732 Q1870,732 1862,731 Z"/>
<ellipse class="pt" cx="1924.3" cy="721.0" rx="1.5" ry="4.5"/>
<path class="p" d="M1925,717 L1938,710 L1948.6,709.5 L1948.6,730.4 L1938,730.6 L1925,725.5 Z"/>
<path class="p" d="M1948.6,709.5 L1976,709.5 L1982.5,713 L1982.5,728 L1976,731 L1948.6,731 Z"/>
<path class="pt" d="M1969,714 L1979,710.5 L1983.5,717 L1983.5,726 L1976,729 Z"/>
<line class="pn" x1="1955.0" y1="724.0" x2="1966.0" y2="724.0"/>
<path class="pn" d="M1862,729 Q1860,736 1854,735 Q1840,731 1830,727 Q1822,727 1816,733"/>
<path class="pt" d="M1862,733 Q1858,741 1851,739 Q1838,735 1829,732 Q1823,733 1818,737"/>
<path class="p" d="M1815.9,732.5 L1800,741 L1790,752 L1768,764 Q1759,770 1762,778 Q1766,784 1775,781 L1785,778 L1801,765 L1810,748 Z"/>
<ellipse class="p" cx="1773.0" cy="772.5" rx="11.5" ry="7" transform="rotate(-25 1773.0 772.5)"/>
<ellipse class="pt" cx="1773.0" cy="772.5" rx="9" ry="5" transform="rotate(-25 1773.0 772.5)"/>
<line class="pt" x1="1788.0" y1="752.0" x2="1806.0" y2="760.0"/>
<path class="pt" d="M1777,759 l3,-3 l2,3"/>
<line class="d" style="stroke-dasharray:15 10" x1="318" y1="403.4" x2="543.2" y2="427.9"/>
<path class="p" d="M307,394 L316.5,394.5 L319,401 L317.3,408.8 L307,409.7 Z"/>
<circle class="p" cx="304.8" cy="401.5" r="6.8"/>
<line class="pt" x1="313.0" y1="395.0" x2="313.0" y2="409.0"/>
<path class="p" d="M361.5,406 L364,403.5 L368.5,403.7 L370.8,407 L370.5,411.5 L367.5,414 L363,413.8 L361,410.5 Z"/><ellipse class="p" cx="366.0" cy="408.8" rx="2.6" ry="3" style="stroke-width:1.6"/>
<ellipse class="p" cx="413.2" cy="413.0" rx="5" ry="7.5"/><ellipse class="pt" cx="413.2" cy="413.2" rx="2.2" ry="3.5"/>
<path class="p" d="M537,366 L639,414.5 Q647,419 645.5,428 L628,486 Q624,495 613,493 L609.4,491.6 Z"/>
<path class="p" d="M533.2,368.3 L635.8,417.1 Q643,421 641.6,429.5 L624.3,485.8 Q620,494 609.4,491.6 L515,446 Q505,441 505.9,429.5 L520.8,378.2 Q524,366 533.2,368.3 Z"/>
<path class="pn" d="M539.8,377.4 L624.3,421.2 Q629,424 626.7,427.9 L609.4,479.2 Q607,484 601.9,482.5 L518.3,441.1 Q514,438 515.8,432.8 L531.6,381.5 Q534,376 539.8,377.4 Z"/>
<path class="pt" d="M640,420 L645.5,428 M624,490 L628,486"/>
<circle class="p" cx="570.5" cy="430.0" r="9.5"/>
<circle class="pt" cx="568.0" cy="429.5" r="6.5"/>
<circle class="pt" cx="567.0" cy="429.5" r="3.5"/>
<path class="pt" d="M562,420 L566,418 L569,421"/>
<path class="p" d="M543.2,426.5 L558,426.5 L558,431 L543.2,431 Z"/>
<ellipse class="pt" cx="543.2" cy="428.7" rx="1.3" ry="2.3"/>
<line class="d" style="stroke-dasharray:16 11" x1="747.9" y1="918.6" x2="961.8" y2="813.8"/>
<line class="d" style="stroke-dasharray:15 8" x1="848" y1="899.2" x2="1002.5" y2="914.7"/>
<path class="p" d="M822.3,869.4 L837.2,874.1 L850.8,891.7 L838.6,955.4 L831.8,955.4 L821.0,941.8 L809.4,933.7 Z"/>
<line class="pt" x1="834.0" y1="875.0" x2="821.6" y2="940.5"/><line class="pt" x1="846.7" y1="891.7" x2="835.2" y2="955.4"/>
<ellipse class="pt" cx="826.1" cy="881.6" rx="2.6" ry="3.4"/><ellipse class="pt" cx="815.5" cy="929.0" rx="2.6" ry="3.4"/>
<ellipse class="pt" cx="834.2" cy="888.3" rx="1.2" ry="2"/><ellipse class="pt" cx="843.3" cy="899.2" rx="1.2" ry="2"/><ellipse class="pt" cx="823.7" cy="937.8" rx="1.2" ry="2"/><ellipse class="pt" cx="833.2" cy="948.6" rx="1.2" ry="2"/>
<path class="p" d="M876.5,884.3 L892.1,887.0 L904.3,904.6 L896.1,945.9 L881.9,947.3 L879.9,950.6 L876.5,950.6 L865.0,935.8 Z"/>
<line class="pt" x1="876.5" y1="884.3" x2="890.7" y2="899.8"/><line class="pt" x1="890.7" y1="899.8" x2="879.9" y2="950.6"/><line class="pt" x1="890.7" y1="899.8" x2="904.3" y2="904.6"/>
<line class="pt" x1="887.3" y1="899.5" x2="876.8" y2="950.0"/>
<path class="p" d="M908.5,941.5 L916.5,950.0 L913.0,963.6 L905.7,955.7 Z"/>
<ellipse class="p" cx="936.8" cy="908.0" rx="4.5" ry="6.5"/><ellipse class="pt" cx="936.8" cy="908.5" rx="2" ry="3.2"/>
<ellipse class="pf" cx="972.4" cy="911.4" rx="4.3" ry="5.5"/><ellipse class="pw" cx="972.4" cy="911.4" rx="1.8" ry="2.4"/>
<path class="p" d="M1002.3,916.9 L1017.8,918.2 L1018.2,913.8 L1002.7,912.5 Z"/><ellipse class="p" cx="1002.5" cy="914.7" rx="1.575" ry="2.25" transform="rotate(4.794232066630435 1002.5 914.7)" style="stroke-width:1"/><ellipse class="p" cx="1021.4" cy="916.1" rx="3.5" ry="5.8" transform="rotate(4.794232066630435 1021.4 916.1)"/><ellipse class="pt" cx="1019.6" cy="915.9" rx="2.8000000000000003" ry="5.51" transform="rotate(4.794232066630435 1019.6 915.9)"/>
<ellipse class="p" cx="911.7" cy="838.2" rx="5.2" ry="6.6" style="stroke-width:2.2"/><ellipse class="pt" cx="911.7" cy="838.5" rx="2.4" ry="3.2"/><line class="pt" x1="906.0" y1="840.0" x2="912.0" y2="838.0"/>
<ellipse class="pf" cx="944.0" cy="822.6" rx="4.4" ry="5.6"/><ellipse class="pw" cx="944.0" cy="822.6" rx="1.8" ry="2.4"/>
<path class="p" d="M971.5,810.5 L985.9,804.1 L984.1,799.9 L969.7,806.3 Z"/><ellipse class="p" cx="970.6" cy="808.4" rx="1.575" ry="2.25" transform="rotate(-23.962488974578143 970.6 808.4)" style="stroke-width:1"/><ellipse class="p" cx="987.6" cy="801.0" rx="3.5" ry="5.8" transform="rotate(-23.962488974578143 987.6 801.0)"/><ellipse class="pt" cx="986.0" cy="801.7" rx="2.8000000000000003" ry="5.51" transform="rotate(-23.962488974578143 986.0 801.7)"/></g>
<g id="leaders">
<line class="k" x1="1829.0" y1="42.0" x2="1885.0" y2="42.0"/>
<line class="k" x1="1829.0" y1="78.4" x2="1885.0" y2="78.4"/>
<line class="k" x1="1829.0" y1="111.5" x2="1885.0" y2="111.5"/>
<line class="k" x1="1923.3" y1="164.0" x2="1923.3" y2="219.1"/>
<line class="k" x1="1886.7" y1="175.2" x2="1886.7" y2="229.5"/>
<line class="k" x1="1848.3" y1="196.7" x2="1848.3" y2="251.9"/>
<line class="k" x1="1490.0" y1="187.3" x2="1490.0" y2="242.5"/>
<line class="k" x1="1663.8" y1="203.3" x2="1719.0" y2="203.3"/>
<line class="k" x1="1650.0" y1="333.4" x2="1705.2" y2="333.4"/>
<line class="k" x1="1500.3" y1="376.5" x2="1556.0" y2="376.5"/>
<line class="k" x1="1808.4" y1="455.2" x2="1808.4" y2="510.5"/>
<line class="k" x1="1896.9" y1="751.1" x2="1896.9" y2="806.3"/>
<line class="k" x1="307.5" y1="436.1" x2="307.5" y2="490.7"/>
<line class="k" x1="365.6" y1="440.3" x2="365.6" y2="494.9"/>
<line class="k" x1="412.9" y1="444.4" x2="412.9" y2="499.5"/>
<line class="k" x1="550.6" y1="484.1" x2="550.6" y2="538.7"/>
<line class="k" x1="911.0" y1="805.7" x2="911.0" y2="830.1"/>
<line class="k" x1="944.0" y1="791.5" x2="944.0" y2="815.9"/>
<line class="k" x1="978.4" y1="776.6" x2="978.4" y2="800.3"/>
<line class="k" x1="832.3" y1="955.7" x2="832.3" y2="978.9"/>
<line class="k" x1="890.7" y1="1035.5" x2="890.7" y2="1056.5"/>
<line class="k" x1="911.0" y1="963.6" x2="911.0" y2="986.8"/>
<line class="k" x1="938.0" y1="916.1" x2="938.0" y2="939.3"/>
<line class="k" x1="973.3" y1="916.1" x2="973.3" y2="941.5"/>
<line class="k" x1="1014.4" y1="921.3" x2="1014.4" y2="945.4"/>
<line class="k" x1="486.0" y1="421.2" x2="500.1" y2="422.9"/>
<line class="k" x1="864.6" y1="671.9" x2="877.3" y2="673.5"/>
<line class="k" x1="886.8" y1="674.3" x2="898.4" y2="676.0"/>
<line class="k" x1="733.2" y1="758.0" x2="733.2" y2="775.7"/>
<polyline class="k" points="868.6,942.6 868.6,1035.3 910.6,1035.3 910.6,1013.4"/>
</g>
<g id="group">
<line class="k" x1="216.2" y1="791.6" x2="271.6" y2="791.6"/>
<line class="k" x1="384.7" y1="888.5" x2="440.1" y2="888.5"/>
<line class="k" x1="246.3" y1="1028.0" x2="301.7" y2="1028.0"/>
<line class="k" x1="243.0" y1="1055.3" x2="298.4" y2="1055.3"/>
<line class="k" x1="239.0" y1="1083.8" x2="293.8" y2="1083.8"/>
<line class="k" x1="456.0" y1="1134.0" x2="511.4" y2="1134.0"/>
<circle class="c" cx="321.7" cy="994.2" r="17.5"/>
<g transform="translate(178.09,803.55) scale(0.765,1)"><path transform="translate(0.00,0)" d="M13.8,0L13.8,-24.1L10.6,-24.1C9.6,-21.5 6.5,-19.5 2.9,-18.6L2.9,-14.3C5.2,-15.0 7.6,-16.2 9.2,-17.6L9.2,0Z"/><text x="19.06" y="0">9</text></g>
<g transform="translate(444.86,900.80) scale(0.765,1)"><path transform="translate(0.00,0)" d="M13.8,0L13.8,-24.1L10.6,-24.1C9.6,-21.5 6.5,-19.5 2.9,-18.6L2.9,-14.3C5.2,-15.0 7.6,-16.2 9.2,-17.6L9.2,0Z"/></g>
<g transform="translate(207.59,1039.05) scale(0.765,1)"><path transform="translate(0.00,0)" d="M13.8,0L13.8,-24.1L10.6,-24.1C9.6,-21.5 6.5,-19.5 2.9,-18.6L2.9,-14.3C5.2,-15.0 7.6,-16.2 9.2,-17.6L9.2,0Z"/><text x="19.06" y="0">6</text></g>
<g transform="translate(204.95,1066.80) scale(0.765,1)"><path transform="translate(0.00,0)" d="M13.8,0L13.8,-24.1L10.6,-24.1C9.6,-21.5 6.5,-19.5 2.9,-18.6L2.9,-14.3C5.2,-15.0 7.6,-16.2 9.2,-17.6L9.2,0Z"/><text x="19.06" y="0">7</text></g>
<g transform="translate(200.61,1095.45) scale(0.765,1)"><path transform="translate(0.00,0)" d="M13.8,0L13.8,-24.1L10.6,-24.1C9.6,-21.5 6.5,-19.5 2.9,-18.6L2.9,-14.3C5.2,-15.0 7.6,-16.2 9.2,-17.6L9.2,0Z"/><text x="19.06" y="0">8</text></g>
<g transform="translate(517.87,1146.50) scale(0.765,1)"><text x="0.00" y="0">2</text></g>
<path class="p" d="M294.7,788.5 L304.7,787.7 L300.8,807.0 L291.6,807.0 Z"/>
<ellipse class="p" cx="296.2" cy="807.2" rx="4.6" ry="1.8"/>
<path class="p" d="M293.1,781.6 L295,777.5 L301,776 L307.5,777.5 L309.3,781.6 L307,785.8 L298,786.5 L294,784.5 Z"/>
<line class="pt" x1="297.0" y1="786.3" x2="297.0" y2="782.5"/><line class="pt" x1="306.0" y1="785.8" x2="306.0" y2="782.0"/><path class="pt" d="M294.5,782.3 L300,783.3 L308.5,782"/>
<polyline class="d" points="295.4,809.3 276.2,901.6 320,921.6"/>
<line class="d" x1="333.2" y1="937" x2="324.7" y2="977.8"/>
<line class="d" x1="319.5" y1="1011.7" x2="307.3" y2="1075.4"/>
<path class="p" d="M314.7,839.3 L331.6,834.3 L373.2,856.2 L359.3,860.8 Z"/>
<line class="pt" x1="316.5" y1="839.5" x2="361.0" y2="862.0"/>
<path class="p" d="M359.3,860.8 L373.2,856.2 Q375,860 374.5,863 L364,919 Q362,923 358,925 L351.6,927 Z"/>
<line class="pt" x1="360.5" y1="861.0" x2="352.5" y2="925.0"/>
<path class="p" d="M322.0,917.0 L337.5,924.0 L348.5,928.5 L348.5,936.5 L340.0,939.0 L321.5,931.0 Z"/>
<line class="pt" x1="322.0" y1="922.0" x2="340.0" y2="929.0"/><line class="pt" x1="340.0" y1="929.0" x2="340.0" y2="938.0"/><circle class="pt" cx="333.0" cy="934.0" r="1.8"/>
<path class="p" d="M317,838.5 L357,860 Q361,862 360.5,866 L352,923 Q351,928 346,926 L311,908 Q307,905 307.5,900 L313.7,843 Q314.5,838 317,838.5 Z"/>
<path class="pn" d="M367.5,893 C378,898 385,908 386.5,928 L386.5,951"/>
<path class="pn" d="M368,901.5 C375,905 379,912 380,930 L380.5,951"/>
<ellipse class="pt" cx="383.5" cy="951.5" rx="3.5" ry="1.8"/>
<line class="pt" x1="383.5" y1="953.0" x2="370.1" y2="980.0"/>
<rect class="pt" x="368.0" y="980.0" width="4.2" height="12" rx="0.3" transform="rotate(22 370.1 986.0)"/>
<line class="pt" x1="383.5" y1="953.0" x2="385.5" y2="983.0"/>
<rect class="pt" x="383.4" y="983.0" width="4.2" height="12" rx="0.3" transform="rotate(0 385.5 989.0)"/>
<line class="pt" x1="383.5" y1="953.0" x2="400.9" y2="977.0"/>
<rect class="pt" x="398.8" y="977.0" width="4.2" height="12" rx="0.3" transform="rotate(-25 400.9 983.0)"/>
<ellipse class="pf" cx="317.4" cy="1029.8" rx="6.5" ry="3.4"/><ellipse class="pw" cx="317.4" cy="1029.4" rx="3.5" ry="1.4"/>
<ellipse class="pf" cx="311.9" cy="1055.5" rx="5.6" ry="3.4"/><ellipse class="pw" cx="311.9" cy="1055.2" rx="2.8" ry="1.2"/>
<path class="p" d="M300,1081 L304,1077.5 L311,1078 L313.5,1082.5 L313,1087 L309,1089.5 L302,1089 L299.5,1085 Z"/>
<ellipse class="pt" cx="307.0" cy="1081.3" rx="3.3" ry="1.8"/>
<path class="pn" d="M388.2,1103.7 C392,1110 396,1112 402,1111.5 C410,1110.5 418,1106.5 425,1106.5 C429,1107 431,1110 433,1113"/>
<path class="pt" d="M389.5,1102 C393,1107.5 397,1109.5 402,1109 C410,1108 418,1104 425,1104 C430,1104.5 432,1108 434,1112"/>
<path class="pn" d="M480.4,1103.7 C476.5,1110 472.5,1112 466.5,1111.5 C458.5,1110.5 450.5,1106.5 443.5,1106.5 C439.5,1107 437.5,1110 435.5,1113"/>
<path class="pt" d="M479,1102 C475.5,1107.5 471.5,1109.5 466.5,1109 C458.5,1108 450.5,1104 443.5,1104 C438.5,1104.5 436.5,1108 434.5,1112"/>
<line class="pt" x1="433.8" y1="1113.0" x2="420.5" y2="1089.8"/>
<rect class="pt" x="416.6" y="1075.0" width="4.8" height="14.5" rx="0.3" transform="rotate(-20 419.0 1082.3)"/>
<line class="pt" x1="433.8" y1="1113.0" x2="434.3" y2="1085.0"/>
<rect class="pt" x="431.9" y="1070.2" width="4.8" height="14.5" rx="0.3" transform="rotate(0 434.3 1077.5)"/>
<line class="pt" x1="433.8" y1="1113.0" x2="447.4" y2="1090.4"/>
<rect class="pt" x="446.5" y="1075.7" width="4.8" height="14.5" rx="0.3" transform="rotate(25 448.9 1082.9)"/>
<path class="p" d="M428.2,1115.5 Q427.5,1135 428.6,1155.5 L438.6,1155.5 Q439.3,1135 438.4,1115.5 Z"/>
<ellipse class="pn" cx="433.3" cy="1114.6" rx="5.1" ry="1.9"/><ellipse class="pn" cx="433.6" cy="1155.6" rx="5" ry="1.9"/>
<path class="p" d="M363.5,1091.5 L388.2,1103.7 L386.5,1087.0 Z"/><path class="p" d="M340.5,1061.0 L362.5,1052.5 L386.0,1084.5 L383.5,1090.0 L366.0,1094.0 L362.0,1090.0 Z"/><ellipse class="p" cx="374.5" cy="1089.5" rx="12.5" ry="3.6" transform="rotate(-35 374.5 1089.5)"/><ellipse class="p" cx="351.5" cy="1057.4" rx="12.8" ry="6.2" transform="rotate(-12 351.5 1057.4)"/><ellipse class="pt" cx="351.5" cy="1057.2" rx="10.2" ry="4.3" transform="rotate(-12 351.5 1057.2)"/><line class="pt" x1="347.0" y1="1071.0" x2="366.0" y2="1064.0"/><line class="pt" x1="356.0" y1="1074.0" x2="373.0" y2="1086.0"/><line class="pt" x1="365.0" y1="1068.0" x2="381.0" y2="1082.0"/><rect class="pt" x="353.0" y="1067.0" width="2.6" height="5" rx="0.8" transform="rotate(-35 354.3 1069.5)"/>
<path class="p" d="M505.1,1091.5 L480.4,1103.7 L482.1,1087.0 Z"/><path class="p" d="M528.1,1061.0 L506.1,1052.5 L482.6,1084.5 L485.1,1090.0 L502.6,1094.0 L506.6,1090.0 Z"/><ellipse class="p" cx="494.1" cy="1089.5" rx="12.5" ry="3.6" transform="rotate(35 494.1 1089.5)"/><ellipse class="p" cx="517.1" cy="1057.4" rx="12.8" ry="6.2" transform="rotate(12 517.1 1057.4)"/><ellipse class="pt" cx="517.1" cy="1057.2" rx="10.2" ry="4.3" transform="rotate(12 517.1 1057.2)"/><line class="pt" x1="521.6" y1="1071.0" x2="502.6" y2="1064.0"/><line class="pt" x1="512.6" y1="1074.0" x2="495.6" y2="1086.0"/><line class="pt" x1="503.6" y1="1068.0" x2="487.6" y2="1082.0"/><rect class="pt" x="513.0" y="1067.0" width="2.6" height="5" rx="0.8" transform="rotate(35 514.3 1069.5)"/>
<path class="pt" d="M433,1157 L430,1180 M434.5,1157 L437,1180 M436,1157 L443,1181"/>
<path class="p" d="M423.5,1182.5 L424.5,1216 L426.2,1233.7 Q428,1241 442.4,1243 Q457,1243 458,1235 L455.5,1216 L451.9,1185 Z"/>
<ellipse class="p" cx="437.7" cy="1180.5" rx="14.6" ry="3.8" transform="rotate(6 437.7 1180.5)"/>
<ellipse class="pt" cx="442.0" cy="1236.5" rx="15.2" ry="6" transform="rotate(6 442.0 1236.5)"/>
<path class="pt" d="M424.8,1213 Q440,1219 455.3,1216"/>
<line class="pt" x1="440.5" y1="1183.0" x2="441.5" y2="1214.0"/><line class="pt" x1="446.0" y1="1184.0" x2="447.0" y2="1214.0"/>
<rect class="pt" x="448.2" y="1214.5" width="2.6" height="5" rx="0.8" transform="rotate(0 449.5 1217.0)"/>
<path class="pt" d="M424,1192 L426.5,1192 L426.5,1205"/>
<path class="pn" d="M436.5,1157 C446,1166 452,1176 462,1180 C474,1184 482,1186 488.5,1190.4"/>
<path class="pt" d="M438,1156 C447,1164 453,1173 463,1177.5 C474,1181.5 482,1184 489.5,1188.5"/>
<path class="p" d="M488.5,1190.4 L494.0,1208.0 L507.5,1202.5 Z"/>
<path class="p" d="M492,1209 L521,1251 Q526,1259 533,1256.7 L545,1249 Q548,1245 544,1239 L513,1197 Z"/>
<ellipse class="p" cx="500.7" cy="1205.3" rx="13.5" ry="5.2" transform="rotate(-30 500.7 1205.3)"/>
<ellipse class="pt" cx="533.5" cy="1248.0" rx="11" ry="5" transform="rotate(-35 533.5 1248.0)"/>
<path class="p" d="M505.5,1211 L537,1228 L547,1226 L545,1231 L532,1233 L514,1224"/>
<line class="pt" x1="497.0" y1="1213.0" x2="523.0" y2="1251.0"/><line class="pt" x1="500.0" y1="1212.0" x2="526.0" y2="1248.0"/>
<path class="pt" d="M528,1248 l6,-3 m-3,-1.5 l0,3"/>
</g>
<text transform="translate(311.74,1005.94) scale(0.765,1)">B</text>
<use href="#group" transform="translate(1458.8,198.8)"/>
<text transform="translate(1770.65,1204.74) scale(0.765,1)">C</text>
<g id="circles">
<circle class="c" cx="468.3" cy="419.6" r="17.3"/><text transform="translate(458.65,429.34) scale(0.765,1)" x="0" y="0">A</text>
<circle class="c" cx="847.2" cy="669.9" r="17.3"/><text transform="translate(837.55,679.44) scale(0.765,1)" x="0" y="0">A</text>
<circle class="c" cx="731.2" cy="740.6" r="17.3"/><text transform="translate(723.04,752.34) scale(0.765,1)" x="0" y="0">B</text>
<circle class="c" cx="1126.4" cy="937.9" r="17.3"/><text transform="translate(1116.55,949.64) scale(0.765,1)" x="0" y="0">C</text>
</g>
<g id="labels">
<g transform="translate(1889.49,53.45) scale(0.765,1)"><path transform="translate(0.00,0)" d="M13.8,0L13.8,-24.1L10.6,-24.1C9.6,-21.5 6.5,-19.5 2.9,-18.6L2.9,-14.3C5.2,-15.0 7.6,-16.2 9.2,-17.6L9.2,0Z"/><text x="19.06" y="0">3</text></g>
<g transform="translate(1889.22,89.70) scale(0.765,1)"><path transform="translate(0.00,0)" d="M13.8,0L13.8,-24.1L10.6,-24.1C9.6,-21.5 6.5,-19.5 2.9,-18.6L2.9,-14.3C5.2,-15.0 7.6,-16.2 9.2,-17.6L9.2,0Z"/><text x="19.06" y="0">4</text></g>
<g transform="translate(1889.37,123.35) scale(0.765,1)"><path transform="translate(0.00,0)" d="M13.8,0L13.8,-24.1L10.6,-24.1C9.6,-21.5 6.5,-19.5 2.9,-18.6L2.9,-14.3C5.2,-15.0 7.6,-16.2 9.2,-17.6L9.2,0Z"/><text x="19.06" y="0">5</text></g>
<g transform="translate(1907.53,154.50) scale(0.765,1)"><path transform="translate(0.00,0)" d="M13.8,0L13.8,-24.1L10.6,-24.1C9.6,-21.5 6.5,-19.5 2.9,-18.6L2.9,-14.3C5.2,-15.0 7.6,-16.2 9.2,-17.6L9.2,0Z"/><text x="19.06" y="0">2</text></g>
<g transform="translate(1870.47,165.35) scale(0.765,1)"><path transform="translate(0.00,0)" d="M13.8,0L13.8,-24.1L10.6,-24.1C9.6,-21.5 6.5,-19.5 2.9,-18.6L2.9,-14.3C5.2,-15.0 7.6,-16.2 9.2,-17.6L9.2,0Z"/><text x="19.06" y="0">0</text></g>
<g transform="translate(1840.68,186.85) scale(0.765,1)"><text x="0.00" y="0">9</text></g>
<g transform="translate(1482.93,178.40) scale(0.765,1)"><text x="0.00" y="0">4</text></g>
<g transform="translate(1641.28,214.80) scale(0.765,1)"><text x="0.00" y="0">7</text></g>
<g transform="translate(1628.14,344.65) scale(0.765,1)"><text x="0.00" y="0">8</text></g>
<g transform="translate(1561.90,387.95) scale(0.765,1)"><text x="0.00" y="0">5</text></g>
<g transform="translate(1800.93,446.40) scale(0.765,1)"><text x="0.00" y="0">4</text></g>
<g transform="translate(1889.39,838.65) scale(0.765,1)"><text x="0.00" y="0">6</text></g>
<g transform="translate(292.22,524.40) scale(0.765,1)"><path transform="translate(0.00,0)" d="M13.8,0L13.8,-24.1L10.6,-24.1C9.6,-21.5 6.5,-19.5 2.9,-18.6L2.9,-14.3C5.2,-15.0 7.6,-16.2 9.2,-17.6L9.2,0Z"/><path transform="translate(19.06,0)" d="M13.8,0L13.8,-24.1L10.6,-24.1C9.6,-21.5 6.5,-19.5 2.9,-18.6L2.9,-14.3C5.2,-15.0 7.6,-16.2 9.2,-17.6L9.2,0Z"/></g>
<g transform="translate(350.62,528.15) scale(0.765,1)"><path transform="translate(0.00,0)" d="M13.8,0L13.8,-24.1L10.6,-24.1C9.6,-21.5 6.5,-19.5 2.9,-18.6L2.9,-14.3C5.2,-15.0 7.6,-16.2 9.2,-17.6L9.2,0Z"/><text x="19.06" y="0">0</text></g>
<g transform="translate(406.08,532.65) scale(0.765,1)"><text x="0.00" y="0">9</text></g>
<g transform="translate(542.93,571.85) scale(0.765,1)"><text x="0.00" y="0">3</text></g>
<g transform="translate(894.87,804.45) scale(0.765,1)"><text x="0.00" y="0">2</text><text x="19.06" y="0">5</text></g>
<g transform="translate(927.49,790.45) scale(0.765,1)"><text x="0.00" y="0">2</text><text x="19.06" y="0">6</text></g>
<g transform="translate(962.50,775.20) scale(0.765,1)"><text x="0.00" y="0">2</text><text x="19.06" y="0">7</text></g>
<g transform="translate(817.42,1004.05) scale(0.765,1)"><text x="0.00" y="0">2</text><text x="19.06" y="0">0</text></g>
<g transform="translate(876.22,1080.80) scale(0.765,1)"><text x="0.00" y="0">2</text><path transform="translate(19.06,0)" d="M13.8,0L13.8,-24.1L10.6,-24.1C9.6,-21.5 6.5,-19.5 2.9,-18.6L2.9,-14.3C5.2,-15.0 7.6,-16.2 9.2,-17.6L9.2,0Z"/></g>
<g transform="translate(895.96,1011.35) scale(0.765,1)"><text x="0.00" y="0">2</text><text x="19.06" y="0">8</text></g>
<g transform="translate(923.28,965.30) scale(0.765,1)"><text x="0.00" y="0">2</text><text x="19.06" y="0">2</text></g>
<g transform="translate(958.94,966.05) scale(0.765,1)"><text x="0.00" y="0">2</text><text x="19.06" y="0">3</text></g>
<g transform="translate(999.82,970.40) scale(0.765,1)"><text x="0.00" y="0">2</text><text x="19.06" y="0">4</text></g>
</g>
<g transform="translate(2106.04,1609.7) scale(0.776,1)"><text x="0.00" y="0">f</text><text x="10.20" y="0">i</text><text x="18.65" y="0">g</text><path transform="translate(36.55,0)" d="M13.8,0L13.8,-24.1L10.6,-24.1C9.6,-21.5 6.5,-19.5 2.9,-18.6L2.9,-14.3C5.2,-15.0 7.6,-16.2 9.2,-17.6L9.2,0Z"/><path transform="translate(55.37,0)" d="M13.8,0L13.8,-24.1L10.6,-24.1C9.6,-21.5 6.5,-19.5 2.9,-18.6L2.9,-14.3C5.2,-15.0 7.6,-16.2 9.2,-17.6L9.2,0Z"/><text x="74.19" y="0">2</text><text x="93.01" y="0">0</text><text x="111.83" y="0">0</text><text x="130.65" y="0">0</text><text x="149.47" y="0">0</text><text x="168.29" y="0">2</text><text x="187.11" y="0">0</text><text x="205.93" y="0">0</text></g>
</svg></body></html>
